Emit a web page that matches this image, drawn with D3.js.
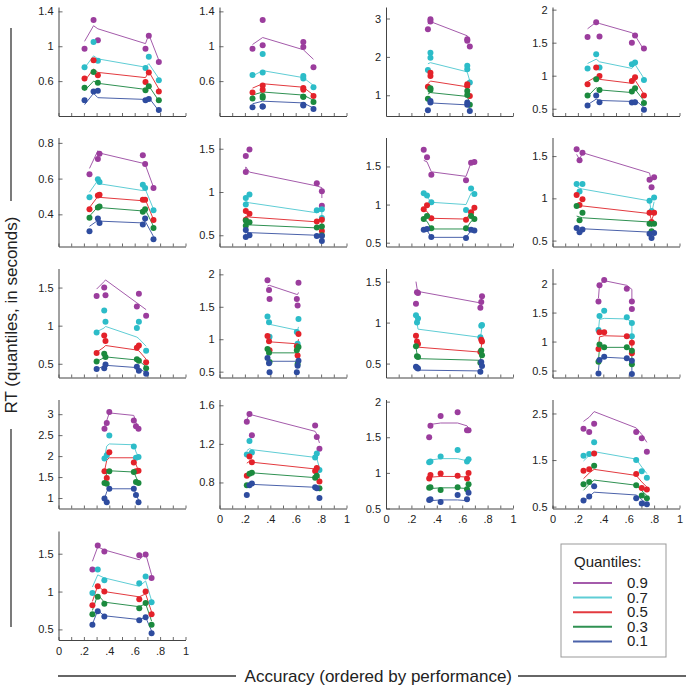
<!DOCTYPE html>
<html><head><meta charset="utf-8">
<script src="https://cdn.jsdelivr.net/npm/d3@7"></script>
<style>body{margin:0;background:#fff} text{font-family:"Liberation Sans",Arial,Helvetica,sans-serif}</style>
</head><body><svg id="c" width="689" height="687"></svg>
<script>
// ---- data: accuracy (x) per panel ----
const accuracy = [
 [0.205,0.276,0.31,0.685,0.711,0.79],
 [0.26,0.34,0.34,0.66,0.66,0.74],
 [0.33,0.35,0.35,0.64,0.64,0.66],
 [0.276,0.344,0.37,0.625,0.65,0.72],
 [0.244,0.31,0.323,0.664,0.682,0.748],
 [0.207,0.207,0.236,0.766,0.806,0.806],
 [0.297,0.323,0.357,0.63,0.67,0.696],
 [0.19,0.213,0.236,0.764,0.78,0.80],
 [0.30,0.36,0.37,0.617,0.633,0.69],
 [0.378,0.39,0.394,0.609,0.615,0.622],
 [0.236,0.244,0.252,0.743,0.75,0.756],
 [0.362,0.37,0.407,0.585,0.625,0.625],
 [0.362,0.38,0.40,0.593,0.61,0.63],
 [0.215,0.236,0.255,0.753,0.766,0.787],
 [0.34,0.35,0.43,0.564,0.638,0.65],
 [0.244,0.289,0.328,0.659,0.703,0.743],
 [0.267,0.309,0.361,0.636,0.686,0.733]
];
// ---- observed RT quantiles (dots) ----
const obsQ09 = [
 [0.97,1.30,1.07,0.97,1.12,0.82],[0.97,1.30,1.01,1.05,0.99,0.76],[2.72,2.98,2.92,2.46,2.42,2.27],
 [1.585,1.81,1.595,1.5,1.61,1.41],[0.625,0.709,0.739,0.73,0.682,0.547],[1.415,1.23,1.49,1.10,1.01,0.84],
 [1.72,1.62,1.39,1.32,1.55,1.56],[1.58,1.45,1.54,1.22,1.13,1.25],[1.39,1.50,1.40,1.25,1.42,1.13],
 [1.91,1.76,1.62,1.62,1.52,1.87],[1.23,1.37,1.36,1.18,1.25,1.32],[1.69,1.97,2.06,1.91,1.69,1.56],
 [2.65,2.79,3.05,2.85,2.71,2.65],[1.43,1.51,1.29,1.39,1.27,1.15],[1.50,1.66,1.80,1.85,1.6,1.6],
 [2.17,2.1,2.28,2.1,1.97,1.68],[1.29,1.61,1.53,1.48,1.49,1.18]
];
const obsQ07 = [
 [0.76,1.05,0.835,0.75,0.88,0.61],[0.67,0.91,0.70,0.66,0.63,0.53],[1.66,2.11,1.98,1.77,1.68,1.33],
 [1.11,1.325,1.125,1.175,1.2,0.935],[0.495,0.596,0.581,0.566,0.547,0.423],[0.93,0.855,0.97,0.79,0.80,0.70],
 [1.15,1.12,1.03,0.93,1.21,1.14],[1.17,1.08,1.17,0.97,0.85,1.01],[0.91,1.20,1.05,0.97,1.05,0.67],
 [1.35,1.26,1.04,1.11,0.93,1.31],[1.09,1.0,1.05,0.82,0.96,0.97],[1.2,1.44,1.53,1.42,1.32,1.09],
 [1.94,2.02,2.49,2.23,1.96,1.98],[1.09,1.23,1.11,1.06,1.10,0.93],[1.15,1.16,1.23,1.32,1.16,1.19],
 [1.59,1.63,1.88,1.5,1.26,1.12],[0.98,1.29,1.15,1.11,1.2,0.86]
];
const obsQ05 = [
 [0.63,0.84,0.667,0.59,0.70,0.48],[0.47,0.55,0.50,0.52,0.50,0.43],[1.22,1.59,1.50,1.29,1.24,0.98],
 [0.87,1.125,0.995,0.92,0.975,0.70],[0.429,0.505,0.51,0.482,0.482,0.368],[0.78,0.68,0.75,0.66,0.68,0.55],
 [0.94,0.99,0.82,0.80,0.90,0.96],[1.04,0.92,0.99,0.83,0.72,0.83],[0.64,0.87,0.80,0.71,0.74,0.52],
 [1.05,0.97,0.83,0.89,0.75,1.08],[0.84,0.77,0.74,0.64,0.79,0.77],[0.87,1.16,1.16,1.09,0.98,0.80],
 [1.64,1.48,2.09,1.85,1.64,1.65],[0.87,1.07,1.01,0.92,0.95,0.81],[0.92,0.97,0.99,0.96,0.92,1.0],
 [1.27,1.30,1.64,1.2,0.9,0.87],[0.82,1.07,1.0,0.9,1.0,0.70]
];
const obsQ03 = [
 [0.525,0.705,0.58,0.495,0.54,0.38],[0.40,0.43,0.41,0.42,0.42,0.36],[0.91,1.18,1.14,1.11,1.01,0.75],
 [0.70,0.945,0.785,0.76,0.81,0.585],[0.381,0.438,0.444,0.415,0.429,0.324],[0.67,0.61,0.65,0.59,0.60,0.50],
 [0.81,0.85,0.69,0.69,0.85,0.81],[0.91,0.74,0.83,0.70,0.61,0.70],[0.53,0.63,0.59,0.56,0.54,0.44],
 [0.85,0.79,0.65,0.83,0.62,0.88],[0.71,0.59,0.58,0.51,0.66,0.60],[0.65,0.95,0.90,0.90,0.84,0.61],
 [1.36,1.34,1.64,1.62,1.38,1.36],[0.77,0.89,0.90,0.85,0.87,0.74],[0.79,0.80,0.76,0.80,0.77,0.84],
 [0.98,1.03,1.38,0.96,0.74,0.68],[0.70,0.93,0.84,0.78,0.85,0.56]
];
const obsQ01 = [
 [0.38,0.48,0.49,0.38,0.395,0.27],[0.30,0.31,0.31,0.33,0.32,0.28],[0.61,0.85,0.81,0.81,0.75,0.59],
 [0.55,0.70,0.60,0.595,0.60,0.485],[0.305,0.377,0.352,0.343,0.377,0.261],[0.48,0.56,0.50,0.49,0.49,0.435],
 [0.67,0.68,0.575,0.56,0.67,0.66],[0.65,0.60,0.63,0.58,0.53,0.59],[0.43,0.44,0.49,0.46,0.41,0.37],
 [0.71,0.63,0.49,0.49,0.59,0.67],[0.46,0.45,0.44,0.40,0.52,0.47],[0.45,0.68,0.74,0.71,0.67,0.44],
 [0.99,0.9,1.22,1.22,1.07,0.9],[0.67,0.77,0.79,0.75,0.74,0.64],[0.62,0.63,0.59,0.69,0.63,0.72],
 [0.63,0.72,0.94,0.68,0.57,0.55],[0.56,0.74,0.67,0.62,0.66,0.45]
];
// ---- model RT quantiles (lines) ----
const modQ09 = [
 [1.056,1.235,1.2,1.03,1.135,0.84],[1.02,1.10,1.10,0.96,0.96,0.85],[2.85,2.94,2.92,2.55,2.52,2.42],
 [1.71,1.81,1.79,1.65,1.61,1.39],[0.657,0.756,0.743,0.686,0.68,0.552],[1.25,1.29,1.23,1.07,1.05,0.93],
 [1.58,1.56,1.43,1.37,1.55,1.56],[1.52,1.46,1.54,1.30,1.2,1.26],[1.48,1.58,1.6,1.30,1.28,1.21],
 [1.82,1.83,1.83,1.69,1.69,1.72],[1.5,1.42,1.38,1.24,1.26,1.34],[1.75,1.98,2.05,1.97,1.9,1.72],
 [2.7,2.85,3.03,2.97,2.8,2.67],[1.45,1.51,1.5,1.33,1.3,1.21],[1.65,1.68,1.70,1.70,1.66,1.63],
 [2.33,2.42,2.54,2.19,2.05,1.88],[1.40,1.59,1.55,1.42,1.5,1.22]
];
const modQ07 = [
 [0.75,0.89,0.855,0.76,0.80,0.63],[0.66,0.72,0.72,0.64,0.64,0.55],[1.82,1.85,1.85,1.61,1.6,1.37],
 [1.185,1.25,1.21,1.11,1.17,0.96],[0.524,0.59,0.571,0.533,0.543,0.429],[0.88,0.89,0.875,0.76,0.79,0.70],
 [1.12,1.1,1.03,1.0,1.15,1.14],[1.14,1.12,1.11,0.97,0.82,0.96],[0.92,0.97,0.99,0.85,0.83,0.73],
 [1.27,1.23,1.23,1.14,1.14,1.19],[1.09,1.0,0.92,0.82,0.88,0.96],[1.2,1.38,1.4,1.39,1.34,1.12],
 [1.96,2.24,2.29,2.27,2.1,1.98],[1.13,1.15,1.14,1.06,1.05,0.95],[1.16,1.18,1.20,1.2,1.17,1.17],
 [1.48,1.6,1.68,1.52,1.35,1.21],[1.06,1.22,1.18,1.07,1.14,0.88]
];
const modQ05 = [
 [0.60,0.74,0.70,0.64,0.71,0.51],[0.52,0.57,0.57,0.53,0.53,0.44],[1.3,1.37,1.37,1.22,1.2,1.0],
 [0.91,0.985,0.945,0.885,0.935,0.72],[0.438,0.5,0.495,0.476,0.486,0.371],[0.70,0.72,0.71,0.655,0.67,0.59],
 [0.93,0.91,0.82,0.81,0.9,0.92],[0.93,0.92,0.91,0.82,0.74,0.82],[0.65,0.72,0.74,0.68,0.67,0.56],
 [0.98,0.96,0.96,0.93,0.93,1.0],[0.83,0.76,0.70,0.64,0.7,0.78],[0.9,1.08,1.1,1.09,1.05,0.82],
 [1.64,1.9,1.96,1.96,1.8,1.65],[1.0,1.02,1.01,0.94,0.93,0.84],[0.93,0.94,0.95,0.95,0.94,0.93],
 [1.1,1.22,1.3,1.17,1.03,0.92],[0.87,1.08,1.0,0.93,0.97,0.73]
];
const modQ03 = [
 [0.49,0.60,0.575,0.505,0.545,0.375],[0.44,0.475,0.475,0.44,0.44,0.38],[1.03,1.07,1.07,0.97,0.96,0.8],
 [0.685,0.82,0.785,0.745,0.795,0.62],[0.39,0.442,0.438,0.419,0.429,0.333],[0.61,0.63,0.62,0.585,0.59,0.52],
 [0.8,0.78,0.68,0.68,0.78,0.8],[0.79,0.78,0.77,0.72,0.66,0.71],[0.53,0.58,0.59,0.55,0.54,0.46],
 [0.83,0.79,0.79,0.79,0.79,0.83],[0.70,0.62,0.56,0.54,0.6,0.67],[0.68,0.88,0.9,0.9,0.86,0.64],
 [1.37,1.6,1.65,1.62,1.5,1.37],[0.89,0.9,0.9,0.85,0.84,0.79],[0.78,0.78,0.79,0.79,0.78,0.77],
 [0.85,0.98,1.07,0.96,0.84,0.74],[0.75,0.96,0.86,0.80,0.84,0.61]
];
const modQ01 = [
 [0.33,0.46,0.41,0.39,0.41,0.26],[0.34,0.37,0.37,0.35,0.35,0.29],[0.78,0.81,0.8,0.75,0.74,0.66],
 [0.56,0.645,0.625,0.61,0.635,0.52],[0.333,0.366,0.362,0.352,0.362,0.276],[0.52,0.535,0.53,0.50,0.50,0.45],
 [0.67,0.66,0.57,0.57,0.66,0.67],[0.66,0.65,0.64,0.60,0.56,0.60],[0.43,0.47,0.48,0.45,0.44,0.38],
 [0.67,0.66,0.66,0.66,0.66,0.67],[0.47,0.44,0.42,0.41,0.45,0.51],[0.5,0.7,0.73,0.71,0.68,0.48],
 [0.98,1.15,1.22,1.22,1.1,0.95],[0.77,0.78,0.78,0.75,0.75,0.71],[0.60,0.61,0.62,0.62,0.61,0.60],
 [0.6,0.72,0.81,0.75,0.65,0.56],[0.57,0.75,0.68,0.63,0.66,0.48]
];
// ---- axes ----
const yDomains = [
 [0.2,1.45],[0.2,1.45],[0.46,3.3],[0.39,2.04],
 [0.22,0.83],[0.37,1.63],[0.45,1.88],[0.43,1.72],
 [0.32,1.75],[0.41,2.09],[0.33,1.66],[0.38,2.26],
 [0.75,3.35],[0.53,1.66],[0.5,2.03],[0.46,2.8],
 [0.36,1.8]
];
const yTicks = [
 [0.6,1,1.4],[0.6,1,1.4],[1,2,3],[0.5,1,1.5,2],
 [0.4,0.6,0.8],[0.5,1,1.5],[0.5,1,1.5],[0.5,1,1.5],
 [0.5,1,1.5],[0.5,1,1.5,2],[0.5,1,1.5],[0.5,1,1.5,2],
 [1,1.5,2,2.5,3],[0.8,1.2,1.6],[0.5,1,1.5,2],[0.5,1.5,2.5],
 [0.5,1,1.5]
];
const xTicks = [0,0.1,0.2,0.3,0.4,0.5,0.6,0.7,0.8,0.9,1];
const xTickLabels = {0:"0",0.2:".2",0.4:".4",0.6:".6",0.8:".8",1:"1"};
const panelsWithXLabels = [13,14,15,16];
const quantileLabels = ["0.9","0.7","0.5","0.3","0.1"];
const quantileColors = ["#9b3d9d","#2cbcc8","#e3222a","#1b8a3e","#2e4c9f"];
const quantileLineColors = ["#a45bab","#5fcdd5","#e33a3f","#2f9152","#4b62aa"];

const obsByQ = [obsQ09, obsQ07, obsQ05, obsQ03, obsQ01];
const modByQ = [modQ09, modQ07, modQ05, modQ03, modQ01];

// ---- layout ----
const svg = d3.select("#c");
const colLeft = [58.5, 219.5, 386, 552.5];
const rowBottom = [116, 246.5, 377.5, 508.5, 640];
const PW = 127, PH = 109;
const axisColor = "#444";

accuracy.forEach((acc, p) => {
  const r = Math.floor(p / 4), c = p % 4;
  const x = d3.scaleLinear().domain([0, 1]).range([colLeft[c], colLeft[c] + PW]);
  const y = d3.scaleLinear().domain(yDomains[p]).range([rowBottom[r], rowBottom[r] - PH]);
  const g = svg.append("g");

  const ya = d3.axisLeft(y).tickValues(yTicks[p]).tickSize(-4).tickSizeOuter(0).tickPadding(5).tickFormat(d => String(d));
  const yg = g.append("g").attr("transform", `translate(${colLeft[c]},0)`).call(ya);
  const showX = panelsWithXLabels.includes(p);
  const xa = d3.axisBottom(x).tickValues(xTicks).tickSize(-3).tickSizeOuter(0).tickPadding(7)
    .tickFormat(d => showX && xTickLabels[d] !== undefined ? xTickLabels[d] : "");
  const xg = g.append("g").attr("transform", `translate(0,${rowBottom[r]})`).call(xa);
  [yg, xg].forEach(a => {
    a.selectAll("path.domain").attr("stroke", axisColor).attr("stroke-width", 1);
    a.selectAll(".tick line").attr("stroke", axisColor).attr("stroke-width", 0.8);
    a.selectAll("text").attr("fill", "#222").style("font-size", "11px");
  });

  const line = d3.line().x((d, i) => x(acc[i])).y(d => y(d));
  modByQ.forEach((m, q) => {
    g.append("path").attr("d", line(m[p])).attr("fill", "none")
      .attr("stroke", quantileLineColors[q]).attr("stroke-width", 1);
  });
  obsByQ.forEach((o, q) => {
    g.selectAll(null).data(o[p]).enter().append("circle")
      .attr("cx", (d, i) => x(acc[i])).attr("cy", d => y(d)).attr("r", 3)
      .attr("fill", quantileColors[q]);
  });
});

// ---- axis titles ----
svg.append("line").attr("x1", 11).attr("x2", 11).attr("y1", 28).attr("y2", 201).attr("stroke", "#333").attr("stroke-width", 1.3);
svg.append("line").attr("x1", 11).attr("x2", 11).attr("y1", 429).attr("y2", 627).attr("stroke", "#333").attr("stroke-width", 1.3);
svg.append("text").attr("transform", "translate(17,315) rotate(-90)").attr("text-anchor", "middle")
  .style("font-size", "17px").attr("fill", "#222").text("RT (quantiles, in seconds)");

svg.append("line").attr("x1", 58).attr("x2", 236).attr("y1", 676).attr("y2", 676).attr("stroke", "#333").attr("stroke-width", 1.3);
svg.append("line").attr("x1", 518).attr("x2", 686).attr("y1", 676).attr("y2", 676).attr("stroke", "#333").attr("stroke-width", 1.3);
svg.append("text").attr("x", 512).attr("y", 682).attr("text-anchor", "end")
  .style("font-size", "17px").attr("fill", "#222").text("Accuracy (ordered by performance)");

// ---- legend ----
const lg = svg.append("g");
const legY0 = 583, legStep = 14.6;
lg.append("rect").attr("x", 561).attr("y", 544).attr("width", 105).attr("height", 113)
  .attr("fill", "#fff").attr("stroke", "#999").attr("stroke-width", 1);
lg.append("text").attr("x", 574).attr("y", 567).style("font-size", "15px").attr("fill", "#222").text("Quantiles:");
quantileLabels.forEach((lab, q) => {
  const yy = legY0 + q * legStep;
  lg.append("line").attr("x1", 573).attr("x2", 612).attr("y1", yy).attr("y2", yy)
    .attr("stroke", quantileLineColors[q]).attr("stroke-width", 2);
});
const legText = lg.append("text").style("font-size", "15px").attr("fill", "#222");
quantileLabels.forEach((lab, q) => {
  legText.append("tspan").attr("x", 627).attr("y", legY0 + q * legStep + 5).text(lab);
});
</script></body></html>
